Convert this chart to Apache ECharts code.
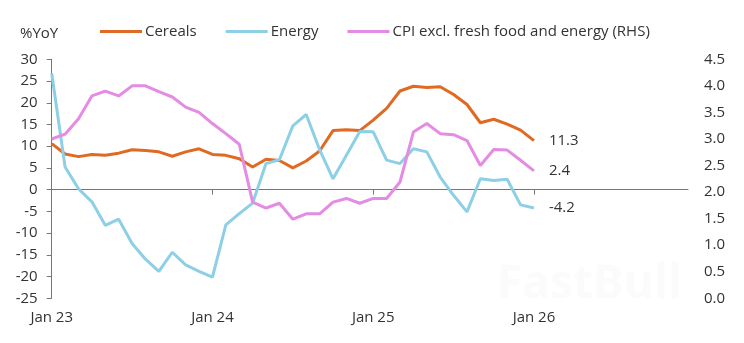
<!DOCTYPE html>
<html>
<head>
<meta charset="utf-8">
<script src="https://cdn.jsdelivr.net/npm/echarts@6/dist/echarts.min.js"></script>
<style>
  html, body { margin: 0; padding: 0; background: #fff; }
  #chart { width: 744px; height: 343px; }
</style>
</head>
<body>
<div id="chart"></div>
<script>
// Monthly readings, Jan 23 .. Jan 26 (37 months)
const tickLabels = ['Jan 23', 'Jan 24', 'Jan 25', 'Jan 26'];
const seriesNames = ['Cereals', 'Energy', 'CPI excl. fresh food and energy (RHS)'];

const cereals = [10.6, 8.2, 7.6, 8.1, 7.9, 8.4, 9.2, 9.0, 8.7, 7.7,
                 8.7, 9.4, 8.1, 7.9, 7.1, 5.2, 7.0, 6.7, 5.0,
                 6.6, 8.9, 13.6, 13.8, 13.6, 16.0, 18.7, 22.7, 23.8,
                 23.5, 23.7, 21.9, 19.6, 15.4, 16.2, 15.1, 13.7, 11.3];

const energy = [26.8, 5.2, 0.2, -2.8, -8.2, -6.8, -12.4, -16.0, -18.8, -14.4,
                -17.3, -18.8, -20.1, -8.1, -5.5, -3.1, 6.0, 6.9, 14.7,
                17.3, 9.2, 2.5, 7.9, 13.4, 13.3, 6.8, 6.0, 9.4,
                8.7, 2.9, -1.3, -5.1, 2.5, 2.1, 2.4, -3.5, -4.2];

const cpiCore = [3.0, 3.09, 3.38, 3.81, 3.90, 3.81, 4.0, 4.0, 3.89, 3.79,
                 3.60, 3.50, 3.29, 3.10, 2.90, 1.81, 1.70, 1.79, 1.49,
                 1.59, 1.59, 1.81, 1.88, 1.79, 1.88, 1.88, 2.19, 3.13,
                 3.29, 3.10, 3.08, 2.97, 2.50, 2.80, 2.79, 2.60, 2.4];

const FONT = '"Open Sans", sans-serif';
const FS = 15;
const TEXT = '#333';
const AXIS = '#777';
const tickMonths = tickLabels.map((_, k) => k * 12);
const toPoints = arr => arr.map((v, i) => [i, v]);

function lineSeries(name, data, color, yAxisIndex) {
  return {
    name, type: 'line', xAxisIndex: 0, yAxisIndex,
    data: toPoints(data),
    symbol: 'none',
    lineStyle: { width: 3, color },
    itemStyle: { color },
    endLabel: {
      show: true, distance: 15, fontSize: FS, color: TEXT, fontFamily: FONT,
      formatter: p => p.value[1].toFixed(1)
    }
  };
}

const chart = echarts.init(document.getElementById('chart'), null, { renderer: 'canvas' });
chart.setOption({
  animation: false,
  textStyle: { fontFamily: FONT },
  grid: { left: 51.7, right: 56, top: 59.3, bottom: 44.7 },
  legend: {
    left: 95, top: 19,
    icon: 'rect',
    itemWidth: 42, itemHeight: 3, itemGap: 29,
    textStyle: { fontSize: FS, color: TEXT, fontFamily: FONT, padding: [0, 0, 0, -2] },
    data: seriesNames
  },
  graphic: [
    { type: 'text', left: 20, top: 26, style: { text: '%YoY', fontSize: FS, fill: TEXT, fontFamily: FONT } },
    { type: 'text', left: 497, top: 262, z: -1,
      style: { text: 'FastBull', fontSize: 46, fontWeight: 'bold', fill: '#fbfbfb', fontFamily: FONT,
               shadowColor: 'rgba(0,0,0,0.08)', shadowBlur: 5 } }
  ],
  xAxis: [
    {
      type: 'value', min: 0, max: 47.5, position: 'bottom',
      axisLine: { show: false }, axisTick: { show: false }, splitLine: { show: false },
      axisLabel: {
        customValues: tickMonths, margin: 12, fontSize: FS, color: TEXT, fontFamily: FONT,
        formatter: v => tickLabels[Math.round(v / 12)] || ''
      }
    },
    {
      type: 'value', min: 0, max: 47.5, position: 'bottom',
      axisLine: { show: true, onZero: true, onZeroAxisIndex: 0, lineStyle: { color: AXIS, width: 1 } },
      axisTick: { show: true, customValues: tickMonths, length: 5, lineStyle: { color: AXIS } },
      axisLabel: { show: false }, splitLine: { show: false }
    }
  ],
  yAxis: [
    {
      type: 'value', min: -25, max: 30, interval: 5, position: 'left',
      axisLine: { show: true, onZero: false, lineStyle: { color: AXIS, width: 1 } },
      axisTick: { show: true, length: 5, lineStyle: { color: AXIS } },
      splitLine: { show: false },
      axisLabel: { margin: 14, fontSize: FS, color: TEXT, fontFamily: FONT }
    },
    {
      type: 'value', min: 0, max: 4.5, interval: 0.5, position: 'right',
      axisLine: { show: false }, axisTick: { show: false }, splitLine: { show: false },
      axisLabel: { margin: 16, fontSize: FS, color: TEXT, fontFamily: FONT, formatter: v => v.toFixed(1) }
    }
  ],
  series: [
    lineSeries(seriesNames[0], cereals, '#E06A22', 0),
    lineSeries(seriesNames[1], energy, '#8CCFE6', 0),
    lineSeries(seriesNames[2], cpiCore, '#E48CE4', 1)
  ]
});
</script>
</body>
</html>
